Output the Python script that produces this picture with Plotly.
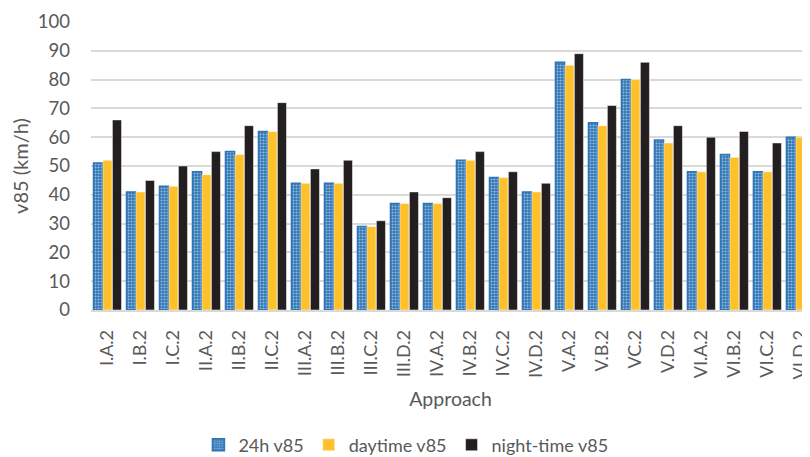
import plotly.graph_objects as go

categories = ["I.A.2", "I.B.2", "I.C.2", "II.A.2", "II.B.2", "II.C.2", "III.A.2", "III.B.2",
              "III.C.2", "III.D.2", "IV.A.2", "IV.B.2", "IV.C.2", "IV.D.2", "V.A.2", "V.B.2",
              "VC.2", "V.D.2", "VI.A.2", "VI.B.2", "VI.C.2", "VI.D.2"]
v85_24h = [51, 41, 43, 48, 55, 62, 44, 44, 29, 37, 37, 52, 46, 41, 86, 65, 80, 59, 48, 54, 48, 60]
v85_day = [52, 41, 43, 47, 54, 62, 44, 44, 29, 37, 37, 52, 46, 41, 85, 64, 80, 58, 48, 53, 48, 60]
v85_night = [66, 45, 50, 55, 64, 72, 49, 52, 31, 41, 39, 55, 48, 44, 89, 71, 86, 64, 60, 62, 58, 74]
y_ticks = [0, 10, 20, 30, 40, 50, 60, 70, 80, 90, 100]

BLUE = "#2E75B6"
YELLOW = "#FFC12B"
BLACK = "#231F20"
GRAY = "#595959"
FONT = "Lato, Carlito, 'Open Sans', sans-serif"

fig = go.Figure()
fig.add_trace(go.Bar(
    x=categories, y=v85_24h, name="24h v85",
    marker=dict(color=BLUE, line=dict(color=BLUE, width=1.5),
                pattern=dict(shape=".", fgcolor="white", bgcolor=BLUE, size=3, solidity=0.4)),
))
fig.add_trace(go.Bar(
    x=categories, y=v85_day, name="daytime v85",
    marker=dict(color=YELLOW, line=dict(color="white", width=0.5)),
))
fig.add_trace(go.Bar(
    x=categories, y=v85_night, name="night-time v85",
    marker=dict(color=BLACK, line=dict(color="white", width=0.5)),
))

n = len(categories)
# page body has an 8px margin; the figure is a bit taller than the window so the
# legend never pushes the plot margins (the overflow is simply outside the window)
fig.update_layout(
    width=802, height=470,
    margin=dict(l=83, r=0, t=14, b=168),
    paper_bgcolor="white", plot_bgcolor="white",
    font=dict(family=FONT, color=GRAY, size=18),
    barmode="group", bargap=0.14, bargroupgap=0.04,
    showlegend=True,
    legend=dict(orientation="h", x=0.438, xanchor="center", y=-0.469, yanchor="middle",
                font=dict(size=18, color=GRAY), itemwidth=30, traceorder="normal"),
    xaxis=dict(
        type="category", range=[-0.5, n - 0.5 - 0.21], automargin=False,
        tickangle=-90, tickfont=dict(size=18, color=GRAY), ticklabelstandoff=11,
        showgrid=False, showline=True, linecolor="#D9D9D9", linewidth=1.5,
        ticks="", title=dict(text="Approach", font=dict(size=19.5, color=GRAY), standoff=14),
    ),
    yaxis=dict(
        range=[0, 100], tickvals=y_ticks, tickfont=dict(size=18.5, color=GRAY), automargin=False,
        showgrid=True, gridcolor="#D9D9D9", gridwidth=1.5, zeroline=False,
        ticks="", ticklabelstandoff=20,
        title=dict(text="v85 (km/h)", font=dict(size=20, color=GRAY), standoff=20),
    ),
)

fig.write_html("out.html")
